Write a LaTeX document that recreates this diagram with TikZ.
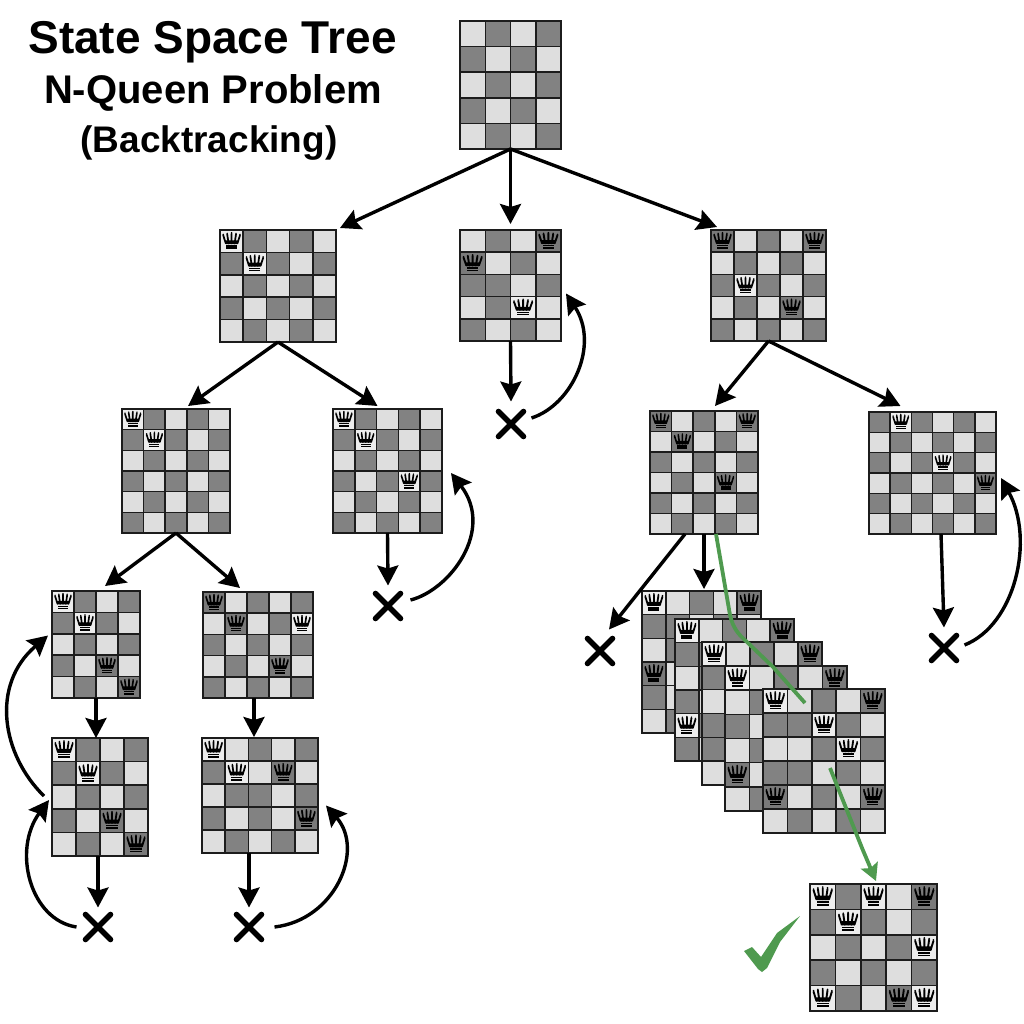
\documentclass[tikz,border=0pt]{standalone}
\usepackage{fontspec}
\setmainfont{Liberation Sans}
\usetikzlibrary{arrows.meta,calc,shapes.misc}
\definecolor{cl}{HTML}{DEDEDE}
\definecolor{cq}{HTML}{EDEDED}
\definecolor{cd}{HTML}{828282}
\definecolor{cdq}{HTML}{7A7A7A}
\definecolor{cg}{HTML}{4F9A4F}
\definecolor{ce}{HTML}{1C1C1C}
\tikzset{
  frameb/.style={draw=ce,line width=1.6pt,inner sep=0pt,outer sep=0pt},
  gridl/.style={draw=ce,line width=1.5pt},
  arr/.style={draw=black,line width=3.4pt,-{Stealth[length=20pt,width=21pt,inset=3pt]}},
  garr/.style={draw=cg,line width=3.8pt},
  xmark/.style={draw=black,cross out,line width=5.6pt,line cap=round,minimum size=25pt,inner sep=0pt,outer sep=0pt},
  titlet/.style={anchor=base,font=\bfseries,inner sep=0pt}
}
\newcount\cellr
\newcount\cellc
\newcommand{\qcrown}{%
  \begin{scope}[shift={(\the\cellc,\the\cellr)},line width={0.075*\qcw*1pt},line cap=round]
    \draw[black] (.25,.60)--(.14,.24) (.37,.60)--(.31,.19) (.5,.60)--(.5,.16) (.63,.60)--(.69,.19) (.75,.60)--(.86,.24);
    \fill[black] (.14,.20) circle[radius=.035] (.31,.15) circle[radius=.035] (.5,.12) circle[radius=.035] (.69,.15) circle[radius=.035] (.86,.20) circle[radius=.035];
    \fill[black] (.23,.46)--(.77,.46)--(.74,.63)--(.26,.63)--cycle;
    \fill[black] (.27,.68) rectangle (.73,.74);
    \fill[black] (.27,.78) rectangle (.73,.85);
  \end{scope}}
\def\drawcell#1{%
  \if#1l\fill[cl] (\the\cellc,\the\cellr) rectangle ++(1,1);\fi
  \if#1d\fill[cd] (\the\cellc,\the\cellr) rectangle ++(1,1);\fi
  \if#1L\fill[cq] (\the\cellc,\the\cellr) rectangle ++(1,1);\qcrown\fi
  \if#1D\fill[cdq] (\the\cellc,\the\cellr) rectangle ++(1,1);\qcrown\fi}
\def\scanrow#1{\ifx#1\relax\else\drawcell{#1}\global\advance\cellc by 1 \expandafter\scanrow\fi}
% name, x0, y0, x1, y1, cols, rows, row strings
\newcommand{\qboard}[8]{%
  \pgfmathsetmacro\qcw{(#4-#2)/#6}%
  \pgfmathsetmacro\qch{(#5-#3)/#7}%
  \begin{scope}[shift={(#2,#3)},x=\qcw pt,y=-\qch pt]
    \global\cellr=0
    \foreach \rowstr in {#8}{%
      \global\cellc=0
      \expandafter\scanrow\rowstr\relax
      \global\advance\cellr by 1
    }
    \foreach \i in {1,...,#6}{\draw[gridl] (\i,0)--(\i,#7);}
    \foreach \i in {1,...,#7}{\draw[gridl] (0,\i)--(#6,\i);}
  \end{scope}
  \node[frameb,minimum width={(#4-#2)*1pt},minimum height={(#5-#3)*1pt}] (#1) at ({(#2+#4)/2},{(#3+#5)/2}) {};
}
\begin{document}
\begin{tikzpicture}[x=1pt,y=-1pt]
\useasboundingbox (0,0) rectangle (1024,1024);
\fill[white] (0,0) rectangle (1024,1024);
% title
\node[titlet,font=\bfseries\fontsize{46}{46}\selectfont] (t1) at (212.5,54) {State Space Tree};
\node[titlet,font=\bfseries\fontsize{40}{40}\selectfont] (t2) at (213,104) {N-Queen Problem};
\node[titlet,font=\bfseries\fontsize{37}{37}\selectfont] (t3) at (209,153) {(Backtracking)};
% boards
\qboard{root}{460}{21}{561}{149}{4}{5}{ldld,dldl,ldld,dldl,ldld}
\qboard{b1}{220}{230}{336}{342}{5}{5}{Ldldl,dLdld,ldldl,dldld,ldldl}
\qboard{b2}{460}{230}{561}{341}{4}{5}{ldlD,Dldl,ddld,ldLl,dldl}
\qboard{b3}{711}{230}{826}{341}{5}{5}{DldlD,ldldl,dLdld,ldlDl,dldld}
\qboard{b4}{122}{409}{230}{533}{5}{6}{Ldldl,dLdld,ldldl,dldld,ldldl,dldld}
\qboard{b5}{333}{409}{442}{533}{5}{6}{Ldldl,dLdld,ldldl,dldLd,ldldl,dldld}
\qboard{b6}{650}{411}{758}{534}{5}{6}{DldlD,lDldl,dldld,ldlDl,dldld,ldldl}
\qboard{b7}{869}{412}{996}{534}{6}{6}{dLdldl,ldldld,dldLdl,ldldlD,dldldl,ldldld}
\qboard{b8}{52}{591}{140}{698}{4}{5}{Ldld,dLdl,ldld,dlDl,ldlD}
\qboard{b9}{203}{592}{313}{698}{5}{5}{Dldld,lDldL,dldld,ldlDl,dldld}
\qboard{b10}{52}{738}{148}{856}{4}{5}{Ldld,dLdl,ldld,dlDl,ldlD}
\qboard{b11}{202}{738}{318}{853}{5}{5}{Lldld,dLlDl,lddld,dldlD,ldldl}
\qboard{s1}{642}{591}{761}{733}{5}{6}{LldlD,ddldl,ldldl,Dldld,dldld,lddld}
\qboard{s2}{675}{619}{794}{761}{5}{6}{LldlD,ddldl,ldldl,dldld,Ldldl,dldld}
\qboard{s3}{702}{642}{822}{785}{5}{6}{LldlD,ddldl,ldldl,dldld,dldld,ldldl}
\qboard{s4}{725}{666}{847}{811}{5}{6}{LldlD,ldldl,dldld,ldldl,Dldld,ldldl}
\qboard{s5}{763}{689}{885}{833}{5}{6}{LldlD,ddLdl,lldLd,ddldl,DldlD,ldldl}
\qboard{fin}{810}{884}{937}{1011}{5}{5}{LdLlD,dLdld,ldldL,dldld,LdlDL}
% crosses
\node[xmark] (x1) at (511,424) {};
\node[xmark] (x2) at (388,606) {};
\node[xmark] (x3) at (98,927) {};
\node[xmark] (x4) at (249,927) {};
\node[xmark] (x5) at (944,648) {};
\node[xmark] (x6) at (600,651) {};
% tree arrows
\draw[arr] (root.south) -- ($(b1.north east)+(4,-2)$);
\draw[arr] (root.south) -- ($(b2.north)+(0,-6)$);
\draw[arr] (root.south) -- ($(b3.north west)+(6,-3)$);
\draw[arr] (b1.south) -- ($(b4.north)+(12,-3)$);
\draw[arr] (b1.south) -- ($(b5.north)+(-10,-3)$);
\draw[arr] (b2.south) -- ($(x1.north)+(0,-10)$);
\draw[arr] (b3.south) -- ($(b6.north)+(11,-5)$);
\draw[arr] (b3.south) -- ($(b7.north)+(-32,-6)$);
\draw[arr] (b4.south) -- ($(b8.north)+(9,-5)$);
\draw[arr] (b4.south) -- ($(b9.north)+(-18,-4)$);
\draw[arr] (b5.south) -- ($(x2.north)+(0,-8)$);
\draw[arr] (b8.south) -- (b10.north-|b8.south);
\draw[arr] (b9.south-|254,0) -- (254,737);
\draw[arr] (b10.south-|98,0) -- ($(x3.north)+(0,-7)$);
\draw[arr] (b11.south-|249,0) -- ($(x4.north)+(0,-7)$);
\draw[arr] (b7.south-|941,0) -- ($(x5.north)+(0,-8)$);
\draw[arr] ($(b6.south)+(-19,0)$) -- ($(x6.north)+(9,-9)$);
\draw[arr] ($(b6.south)+(0,0)$) -- ($(s1.north)+(2.5,-2)$);
% backtracking curves
\draw[arr] ($(x1.east)+(8,-6)$) .. controls (572,405) and (600,345) .. ($(b2.east)+(5,8)$);
\draw[arr] ($(x2.east)+(10,-6)$) .. controls (450,590) and (495,530) .. ($(b5.east)+(9,2)$);
\draw[arr] ($(x3.west)+(-9,0)$) .. controls (30,920) and (12,850) .. ($(b10.west)+(-3,3)$);
\draw[arr] ($(b10.west)+(-8,-1)$) .. controls (2,755) and (-10,685) .. ($(b8.west)+(-4,-9)$);
\draw[arr] ($(x4.east)+(13,0)$) .. controls (335,920) and (365,850) .. ($(b11.east)+(8,10)$);
\draw[arr] ($(x5.east)+(8,-3)$) .. controls (1015,625) and (1035,540) .. ($(b7.east)+(5,5)$);
% solution path
\draw[garr,line join=round] ($(b6.south)+(12,0)$) -- (730,615) .. controls (733,628) and (738,634) .. (747,642) -- (773,667) -- (805,703);
\draw[garr,-{Stealth[length=17pt,width=18pt,inset=3pt]}] (830,768) -- (862,848) -- ($(fin.north)+(2.5,-3)$);
% check mark
\fill[cg] (744,951)--(752,947)--(761,957)--(777,933)--(800,916)--(780,942)--(767,968)--(762,972)--(758,969)--cycle;
\end{tikzpicture}
\end{document}
